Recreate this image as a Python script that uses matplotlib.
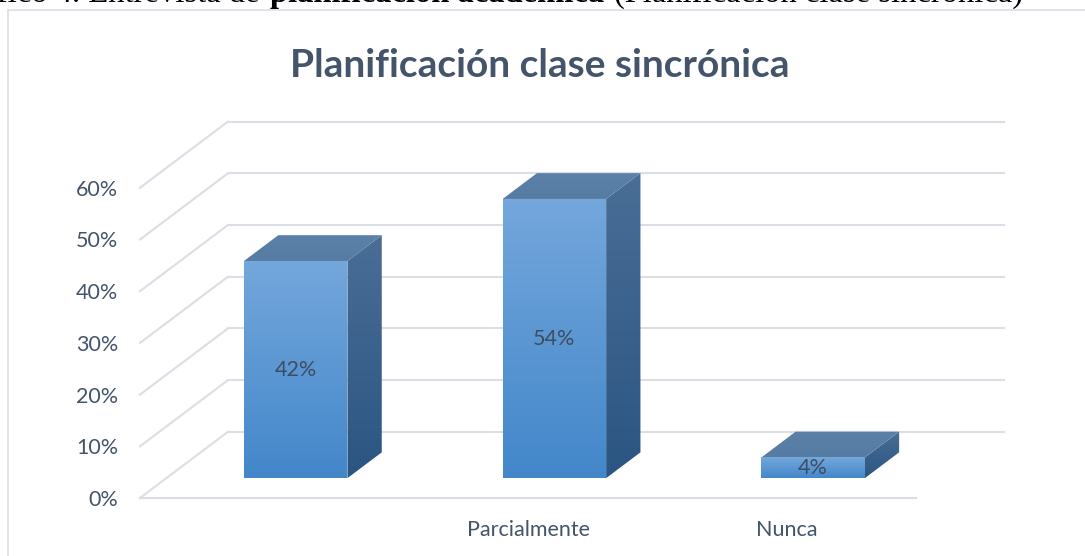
import numpy as np
import matplotlib
matplotlib.use('Agg')
import matplotlib.pyplot as plt
from matplotlib.patches import Polygon, Rectangle
from matplotlib.colors import LinearSegmentedColormap

plt.rcParams['font.family'] = ['Lato', 'DejaVu Sans']

# Daten
categories = ['', 'Parcialmente', 'Nunca']
values = [42, 54, 4]
value_labels = ['42%', '54%', '4%']
yticks = [0, 10, 20, 30, 40, 50, 60]
ytick_labels = ['0%', '10%', '20%', '30%', '40%', '50%', '60%']

# 3D-Geometrie (Tiefe in Kategorien bzw. Prozentpunkten)
depth_x = 0.34
depth_y = 12.8
bar_w = 0.4
z_front, z_back = 0.30, 0.69

grid_col = '#DADEE5'
text_col = '#44546A'


def shade(ax, pts, c_bot, c_top, z=3):
    """Polygon mit vertikalem Farbverlauf"""
    poly = Polygon(pts, closed=True, fc='none', ec='none', zorder=z)
    ax.add_patch(poly)
    pts = np.array(pts)
    cmap = LinearSegmentedColormap.from_list('g', [c_bot, c_top])
    grad = np.linspace(0, 1, 256)[:, None]
    im = ax.imshow(grad, cmap=cmap, origin='lower', aspect='auto', zorder=z,
                   extent=[pts[:, 0].min(), pts[:, 0].max(), pts[:, 1].min(), pts[:, 1].max()])
    im.set_clip_path(poly)


fig = plt.figure(figsize=(10.85, 5.56), dpi=100)
ax = fig.add_axes([140/1085, 58/556, 864/1085, 376.4/556])

n = len(categories)
x0, x1 = -0.5, n - 0.5

# Rückwand + Seitenwand Gitterlinien
for v in yticks:
    ax.plot([x0 + depth_x, x1 + depth_x], [v + depth_y, v + depth_y], color=grid_col, lw=1.5, zorder=1, clip_on=False)
    ax.plot([x0, x0 + depth_x], [v, v + depth_y], color=grid_col, lw=1.5, zorder=1, clip_on=False)
ax.plot([x0, x1], [0, 0], color=grid_col, lw=1.5, zorder=1, clip_on=False)

# Säulen
for i, v in enumerate(values):
    fx = i - bar_w/2 + z_front*depth_x
    fy = z_front*depth_y
    dx = (z_back - z_front)*depth_x
    dy = (z_back - z_front)*depth_y
    front = [(fx, fy), (fx + bar_w, fy), (fx + bar_w, fy + v), (fx, fy + v)]
    side = [(fx + bar_w, fy), (fx + bar_w + dx, fy + dy), (fx + bar_w + dx, fy + v + dy), (fx + bar_w, fy + v)]
    top = [(fx, fy + v), (fx + bar_w, fy + v), (fx + bar_w + dx, fy + v + dy), (fx + dx, fy + v + dy)]
    shade(ax, front, '#4387CA', '#74A7DC')
    shade(ax, side, '#2B5582', '#4A6E96')
    shade(ax, top, '#567CA4', '#5C81A9')
    ax.text(fx + bar_w/2, fy + v/2, value_labels[i], ha='center', va='center',
            fontsize=15.5, color='#3E4C60', zorder=5)

ax.set_xlim(x0, x1 + depth_x)
ax.set_ylim(0, 60 + depth_y)
ax.set_xticks(range(n), categories)
ax.set_yticks(yticks, ytick_labels)
ax.tick_params(axis='x', length=0, pad=16, labelsize=15.5, labelcolor=text_col)
ax.tick_params(axis='y', length=0, pad=15.5, labelsize=15.5, labelcolor=text_col)
for s in ax.spines.values():
    s.set_visible(False)
ax.set_facecolor('none')

# Titel
fig.text(540/1085, 1 - 77/556, 'Planificación clase sincrónica', ha='center', va='baseline',
         fontsize=28, fontweight='bold', color=text_col)

# Rahmen des Diagramms
fig.add_artist(Rectangle((8/1085, -0.05), 1.2, 1.05 - 10/556, transform=fig.transFigure,
                         fill=False, ec='#D9DEE6', lw=1.2))

# abgeschnittene Bildunterschrift oben (im Original nur unterer Rand sichtbar)
cap_y = 1 - 2/556
fig.text(268/1085, cap_y, 'Gráfico 4. Entrevista de ', ha='right', va='baseline',
         fontsize=23.5, family='Liberation Serif', color='black')
fig.text(270/1085, cap_y, 'planificación académica', ha='left', va='baseline',
         fontsize=23.5, family='Liberation Serif', fontweight='bold', color='black')
fig.text(1023/1085, cap_y, '(Planificación clase sincrónica)', ha='right', va='baseline',
         fontsize=23.5, family='Liberation Serif', color='black')

fig.savefig('out.png', dpi=100)
